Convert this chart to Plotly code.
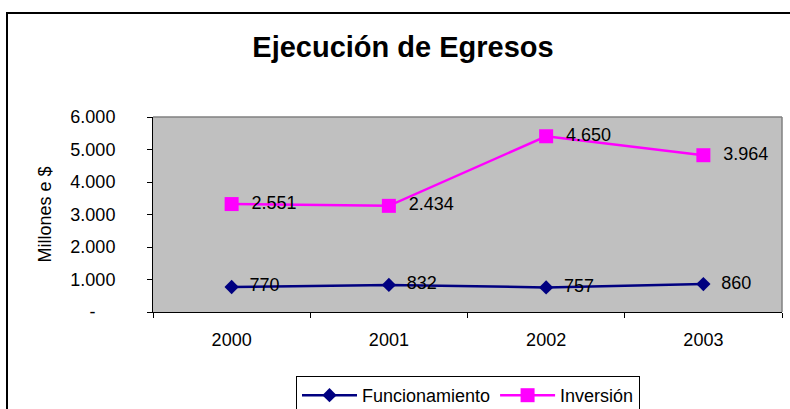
import plotly.graph_objects as go

years = ["2000", "2001", "2002", "2003"]
funcionamiento = [770, 832, 757, 860]
inversion = [2551, 2434, 4650, 3964]
y_tickvals = [0, 1000, 2000, 3000, 4000, 5000, 6000]
y_ticktext = ["-\u00a0\u00a0\u00a0\u00a0", "1.000", "2.000", "3.000", "4.000", "5.000", "6.000"]


def fmt(v):
    return "\u00a0\u00a0" + f"{v:,}".replace(",", ".")


FONT = "Arial, Liberation Sans, sans-serif"

fig = go.Figure()
fig.add_trace(go.Scatter(
    x=years, y=funcionamiento, name="Funcionamiento",
    stackgroup="one", fill="none", mode="lines+markers+text",
    line=dict(color="#000080", width=2.5),
    marker=dict(symbol="diamond", size=11, color="#000080"),
    text=[fmt(v) for v in funcionamiento], textposition="middle right",
    textfont=dict(family=FONT, size=18, color="black"),
))
fig.add_trace(go.Scatter(
    x=years, y=inversion, name="Inversión",
    stackgroup="one", fill="none", mode="lines+markers+text",
    line=dict(color="#FF00FF", width=2.5),
    marker=dict(symbol="square", size=14, color="#FF00FF"),
    text=[fmt(v) for v in inversion], textposition="middle right",
    textfont=dict(family=FONT, size=18, color="black"),
))

L, R, T, B = 153, 782, 117, 312
W, H = 790, 409
pw, ph = R - L, B - T


def px(x):
    return (x - L) / pw


def py(y):
    return (B - y) / ph


fig.update_layout(
    width=W, height=H,
    margin=dict(l=L, r=W - R, t=T, b=H - B, autoexpand=False),
    paper_bgcolor="white", plot_bgcolor="#C0C0C0",
    font=dict(family=FONT, size=18, color="black"),
    title=dict(text="<b>Ejecución de Egresos</b>", xref="container", x=403 / W,
               xanchor="center", yref="container", y=1 - 47 / H, yanchor="middle",
               font=dict(family=FONT, size=29, color="black")),
    showlegend=True,
    legend=dict(orientation="h", xref="container", x=296 / W, xanchor="left",
                yref="container", y=1 - 376 / H, yanchor="top",
                bgcolor="white", bordercolor="black", borderwidth=1,
                itemwidth=55, traceorder="normal",
                font=dict(family=FONT, size=18, color="black")),
    xaxis=dict(type="category", range=[-0.5, 3.5], tickson="boundaries",
               ticks="outside", ticklen=5, tickcolor="black", showline=True,
               linecolor="black", linewidth=1, showgrid=False, zeroline=False,
               ticklabelstandoff=11, tickfont=dict(size=18)),
    yaxis=dict(range=[0, 6000], tickvals=y_tickvals, ticktext=y_ticktext,
               ticks="outside", ticklen=5, tickcolor="black", showline=True,
               linecolor="black", linewidth=1, showgrid=False, zeroline=False,
               ticklabelstandoff=28, tickfont=dict(size=18)),
    shapes=[
        dict(type="line", xref="paper", yref="paper", x0=0, x1=1, y0=1, y1=1,
             line=dict(color="#808080", width=1.5), layer="above"),
        dict(type="line", xref="paper", yref="paper", x0=1, x1=1, y0=0, y1=1,
             line=dict(color="#808080", width=1.5), layer="above"),
        dict(type="rect", xref="paper", yref="paper", x0=px(7), x1=px(810),
             y0=py(430), y1=py(13), line=dict(color="black", width=2),
             fillcolor="rgba(0,0,0,0)", layer="above"),
    ],
    annotations=[
        dict(text="Millones e $", xref="paper", yref="paper", x=px(44), y=0.5,
             textangle=-90, showarrow=False, xanchor="center", yanchor="middle",
             font=dict(family=FONT, size=18, color="black")),
    ],
)

fig.write_html("out.html", config={"displayModeBar": False},
               post_script="document.body.style.margin='0';")
